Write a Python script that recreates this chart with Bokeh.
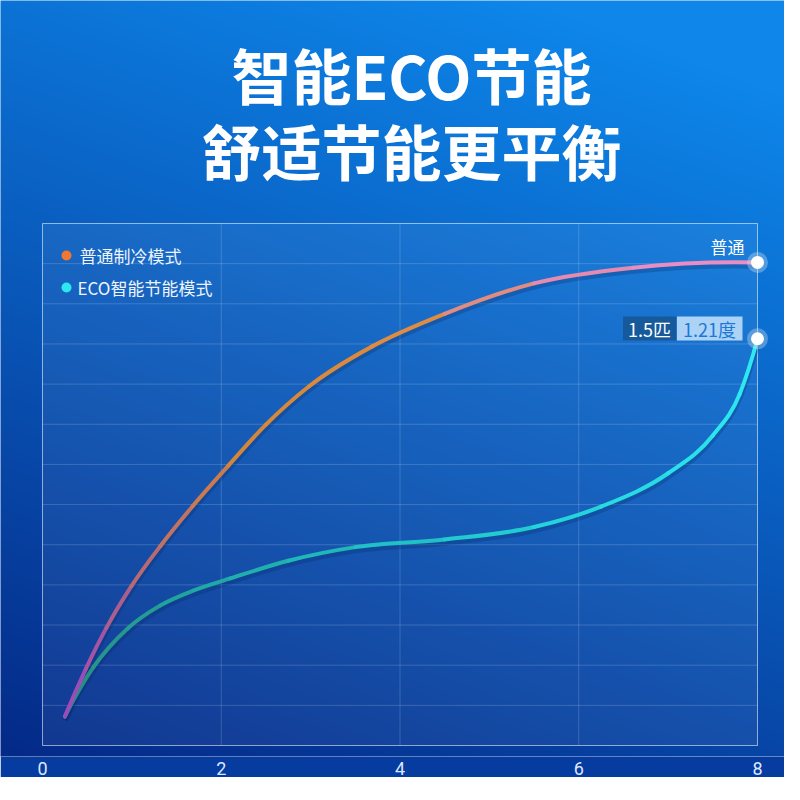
import numpy as np
from bokeh.plotting import figure
from bokeh.models import Range1d, FixedTicker
from bokeh.core.properties import value
from bokeh.embed import file_html
from bokeh.resources import INLINE

# ---------------- data ----------------
title_lines = ["智能ECO节能", "舒适节能更平衡"]
series_names = ["普通制冷模式", "ECO智能节能模式"]
x_ticks = [0, 2, 4, 6, 8]
y_grid = list(range(0, 14))

x_normal = [0.25, 0.485, 0.715, 0.995, 1.32, 1.68, 2.08, 2.5, 2.98, 3.69, 4.5, 5.5,
            6.61, 8.0]
y_normal = [0.72, 1.91, 2.93, 3.97, 4.97, 5.96, 6.97, 7.99, 8.94, 9.94, 10.75, 11.51,
            11.9, 12.03]

x_eco = [0.25, 0.57, 0.95, 1.32, 1.69, 2.1, 2.75, 3.5, 4.5, 5.5, 6.25, 7.0, 7.5, 7.8,
         8.0]
y_eco = [0.72, 1.95, 2.91, 3.49, 3.86, 4.16, 4.6, 4.94, 5.13, 5.44, 5.95, 6.78, 7.72,
         8.75, 10.13]

end_tag = "普通"
power_tag = "1.5匹"
energy_tag = "1.21度"

# ---------------- layout / styles ----------------
W = 784
FRAME_H = 756
BOX_L, BOX_R, BOX_T, BOX_B = 42, 757, 223, 745   # plot box in picture pixels
X0, X1 = x_ticks[0], x_ticks[-1]
Y0, Y1 = y_grid[0], y_grid[-1]
sx = (BOX_R - BOX_L) / (X1 - X0)
sy = (BOX_B - BOX_T) / (Y1 - Y0)
x_range = Range1d(X0 - BOX_L / sx, X1 + (W - BOX_R) / sx)
y_range = Range1d(Y0 - (FRAME_H - BOX_B) / sy, Y1 + BOX_T / sy)


def px(X):  # picture pixel -> data x
    return X0 + (X - BOX_L) / sx


def py(Y):  # picture pixel -> data y
    return Y0 + (BOX_B - Y) / sy


CJK = value("Noto Sans CJK SC")

p = figure(frame_width=W, frame_height=FRAME_H, x_range=x_range, y_range=y_range,
           y_axis_location=None, toolbar_location=None, output_backend="svg",
           title=None, min_border=0, border_fill_color="#063b9f",
           outline_line_color=None)
p.grid.visible = False

# background gradient (style only), slightly larger than the frame to avoid edge seams
pad_x, pad_y = 0.5, 1.0
gx0, gx1 = x_range.start - pad_x, x_range.end + pad_x
gy0, gy1 = y_range.start - pad_y, y_range.end + pad_y
nx, ny = 400, 400
u = np.clip((np.linspace(gx0, gx1, nx) - x_range.start) / (x_range.end - x_range.start), 0, 1)[None, :]
vv = np.clip((y_range.end - np.linspace(gy0, gy1, ny)) / (y_range.end - y_range.start), 0, 1)[:, None]
t = np.clip(0.78 * vv + 0.30 * (1 - u) - 0.10, 0, 1)
c_top = np.array([14, 134, 234])
c_bot = np.array([4, 40, 134])
img = np.empty((ny, nx), dtype=np.uint32)
view = img.view(dtype=np.uint8).reshape((ny, nx, 4))
for k in range(3):
    view[:, :, k] = (c_top[k] + (c_bot[k] - c_top[k]) * t).astype(np.uint8)
view[:, :, 3] = 255
p.image_rgba(image=[img], x=gx0, y=gy0, dw=gx1 - gx0, dh=gy1 - gy0)

# plot box
p.quad(left=X0, right=X1, bottom=Y0, top=Y1, fill_color="white", fill_alpha=0.06,
       line_color="white", line_alpha=0.55, line_width=1)

# grid
hg = y_grid[1:-1]
p.segment(x0=[X0] * len(hg), x1=[X1] * len(hg), y0=hg, y1=hg,
          line_color="white", line_alpha=0.17, line_width=1)
vg = x_ticks[1:-1]
p.segment(x0=vg, x1=vg, y0=[Y0] * len(vg), y1=[Y1] * len(vg),
          line_color="white", line_alpha=0.17, line_width=1)


def smooth_segments(xs, ys):
    """Cubic Hermite (C1) bezier pieces through the given points."""
    x = np.asarray(xs, float)
    y = np.asarray(ys, float)
    h = np.diff(x)
    d = np.diff(y) / h
    n = len(x)
    m = np.zeros(n)
    for i in range(1, n - 1):
        m[i] = (h[i - 1] * d[i] + h[i] * d[i - 1]) / (h[i - 1] + h[i])
    m[0] = ((2 * h[0] + h[1]) * d[0] - h[0] * d[1]) / (h[0] + h[1])
    m[-1] = ((2 * h[-1] + h[-2]) * d[-1] - h[-1] * d[-2]) / (h[-1] + h[-2])
    return dict(x0=x[:-1], y0=y[:-1], x1=x[1:], y1=y[1:],
                cx0=x[:-1] + h / 3, cy0=y[:-1] + m[:-1] * h / 3,
                cx1=x[1:] - h / 3, cy1=y[1:] - m[1:] * h / 3)


def grad_colors(xs, stops):
    cols = []
    sx_ = [s[0] for s in stops]
    for i in range(len(xs) - 1):
        xm = (xs[i] + xs[i + 1]) / 2
        rgb = [np.interp(xm, sx_, [s[1][k] for s in stops]) for k in range(3)]
        cols.append("#%02x%02x%02x" % tuple(int(round(c)) for c in rgb))
    return cols


normal_stops = [(0.25, (150, 72, 195)), (1.2, (185, 108, 110)), (2.4, (214, 135, 55)),
                (4.0, (222, 140, 62)), (5.6, (228, 138, 168)), (8.0, (236, 142, 205))]
eco_stops = [(0.25, (40, 140, 128)), (2.0, (32, 170, 168)), (4.5, (32, 198, 205)),
             (8.0, (45, 232, 242))]

for xs, ys in [(x_normal, y_normal), (x_eco, y_eco)]:
    s = smooth_segments(xs, [y - 0.08 for y in ys])
    p.bezier(**s, line_color="#04245e", line_alpha=0.25, line_width=6)

for xs, ys, stops in [(x_eco, y_eco, eco_stops), (x_normal, y_normal, normal_stops)]:
    s = smooth_segments(xs, ys)
    p.bezier(**s, line_color=grad_colors(xs, stops), line_width=4, line_cap="round")

# end markers
ex = [x_normal[-1], x_eco[-1]]
ey = [y_normal[-1], y_eco[-1]]
p.scatter(ex, ey, size=21, fill_color="#d8e6f2", fill_alpha=0.35, line_color=None)
p.scatter(ex, ey, size=13, fill_color="white", line_color=None)

# legend (manual)
p.scatter([px(66), px(66)], [py(255), py(287)], size=10,
          fill_color=["#f07832", "#2ee6f0"], line_color=None)
p.text(x=[px(79), px(77)], y=[py(255), py(287)], text=series_names,
       text_font=CJK, text_font_size="17px", text_color="#eef4ff",
       text_align="left", text_baseline="middle")

# tags
p.text(x=[px(744)], y=[py(246)], text=[end_tag], text_font=CJK,
       text_font_size="17px", text_color="white", text_align="right",
       text_baseline="middle")
p.quad(left=px(622.5), right=px(675.5), bottom=py(340), top=py(316),
       fill_color="#165a9c", line_color=None)
p.quad(left=px(676.5), right=px(742), bottom=py(340), top=py(316),
       fill_color="#acd3f6", line_color=None)
p.text(x=[px(649)], y=[py(328)], text=[power_tag], text_font=CJK,
       text_font_size="18px", text_color="white", text_align="center",
       text_baseline="middle")
p.text(x=[px(709)], y=[py(328)], text=[energy_tag], text_font=CJK,
       text_font_size="18px", text_color="#1b78d6", text_align="center",
       text_baseline="middle")

# title
p.text(x=[px(411), px(411)], y=[py(73), py(149)], text=title_lines, text_font=CJK,
       text_font_style="bold", text_font_size="60px", text_color="white",
       text_align="center", text_baseline="middle")

# x axis
p.xaxis.ticker = FixedTicker(ticks=x_ticks)
p.xaxis.axis_line_color = None
p.xaxis.major_tick_line_color = None
p.xaxis.minor_tick_line_color = None
p.xaxis.major_tick_out = 0
p.xaxis.major_tick_in = 0
p.xaxis.major_label_standoff = 5
p.xaxis.major_label_text_font = "Roboto"
p.xaxis.major_label_text_font_size = "18px"
p.xaxis.major_label_text_color = "#dce8ff"

open("out.html", "w").write(file_html(p, INLINE))
